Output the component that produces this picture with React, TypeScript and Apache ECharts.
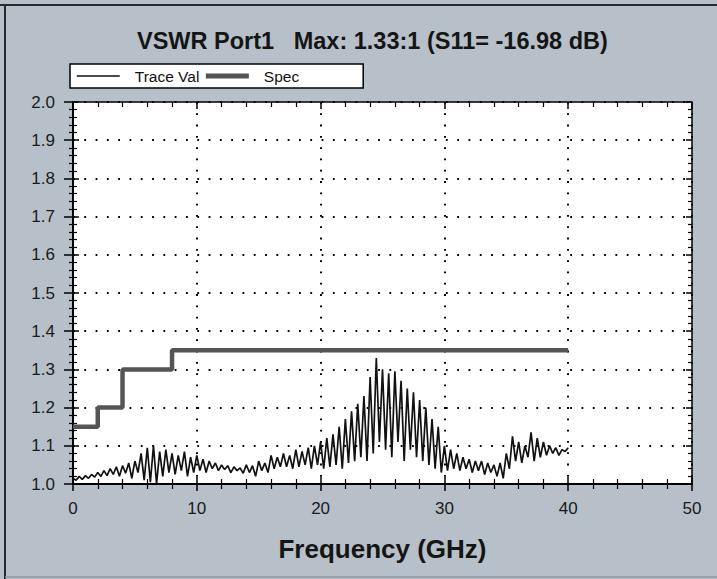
import React, { useEffect, useRef } from "react";
import * as echarts from "echarts";

const titleText = "VSWR Port1   Max: 1.33:1 (S11= -16.98 dB)";
const xName = "Frequency (GHz)";
const seriesNames = ["Trace Val", "Spec"];

const specFreq = [0, 2, 4, 8, 40];
const specVals = [1.15, 1.2, 1.3, 1.35, 1.35];

const traceStep = 0.25; // GHz between trace samples, starting at 0
const traceVals = [
  1.015, 1.010, 1.020, 1.012,
  1.022, 1.015, 1.025, 1.018,
  1.030, 1.020, 1.035, 1.022,
  1.040, 1.025, 1.045, 1.020,
  1.048, 1.028, 1.055, 1.015,
  1.060, 1.030, 1.080, 1.010,
  1.095, 1.005, 1.100, 1.000,
  1.085, 1.020, 1.090, 1.030,
  1.080, 1.025, 1.075, 1.035,
  1.085, 1.020, 1.070, 1.030,
  1.075, 1.035, 1.065, 1.030,
  1.060, 1.040, 1.055, 1.035,
  1.050, 1.038, 1.048, 1.030,
  1.045, 1.035, 1.042, 1.028,
  1.050, 1.030, 1.048, 1.020,
  1.060, 1.035, 1.055, 1.030,
  1.075, 1.040, 1.070, 1.045,
  1.080, 1.045, 1.075, 1.040,
  1.090, 1.045, 1.085, 1.050,
  1.095, 1.040, 1.100, 1.050,
  1.110, 1.040, 1.120, 1.045,
  1.130, 1.050, 1.150, 1.040,
  1.170, 1.055, 1.190, 1.060,
  1.210, 1.070, 1.230, 1.060,
  1.280, 1.080, 1.330, 1.110,
  1.300, 1.090, 1.290, 1.070,
  1.295, 1.110, 1.270, 1.060,
  1.250, 1.090, 1.240, 1.070,
  1.220, 1.060, 1.200, 1.050,
  1.170, 1.040, 1.150, 1.030,
  1.100, 1.035, 1.090, 1.040,
  1.080, 1.035, 1.070, 1.040,
  1.065, 1.030, 1.060, 1.035,
  1.060, 1.025, 1.055, 1.030,
  1.050, 1.020, 1.055, 1.015,
  1.080, 1.040, 1.125, 1.060,
  1.110, 1.055, 1.100, 1.070,
  1.135, 1.060, 1.120, 1.070,
  1.110, 1.075, 1.100, 1.080,
  1.095, 1.075, 1.090, 1.085,
  1.095,
];

const FONT = "Liberation Sans, Arial, sans-serif";

export default function App() {
  const ref = useRef<HTMLDivElement>(null);
  useEffect(() => {
    if (!ref.current) return;
    const chart = echarts.init(ref.current, undefined, { renderer: "svg" });
    const grid = { left: 73, right: 25, top: 102, bottom: 95 };
    const xBase = { type: "value", min: 0, max: 50, interval: 10 };
    const yBase = { type: "value", min: 1.0, max: 2.0, interval: 0.1 };
    const hidden = { show: false };
    chart.setOption({
      animation: false,
      backgroundColor: "#b7c0c8",
      textStyle: { fontFamily: FONT },
      title: {
        text: titleText,
        left: 132,
        top: 24,
        textStyle: { fontSize: 23.5, fontWeight: "bold", color: "#151515", fontFamily: FONT },
      },
      legend: {
        data: [
          { name: seriesNames[0], itemStyle: { opacity: 0 }, lineStyle: { width: 1.5, color: "#111" } },
          { name: seriesNames[1], itemStyle: { opacity: 0 }, lineStyle: { width: 5, color: "#555" } },
        ],
        left: 70,
        top: 64,
        orient: "horizontal",
        backgroundColor: "#fff",
        borderColor: "#000",
        borderWidth: 1.5,
        borderRadius: 0,
        padding: [4, 64, 4, 6],
        itemWidth: 43,
        itemHeight: 12,
        itemGap: 4,
        textStyle: { fontSize: 15.5, color: "#111", fontFamily: FONT, padding: [0, 0, 0, 10] },
      },
      grid: {
        ...grid,
        show: true,
        backgroundColor: "#fff",
        borderColor: "#000",
        borderWidth: 1.5,
      },
      xAxis: [
        {
          ...xBase,
          position: "bottom",
          name: xName,
          nameLocation: "middle",
          nameGap: 52,
          nameTextStyle: { fontSize: 26, fontWeight: "bold", color: "#151515", fontFamily: FONT },
          axisLine: { show: true, onZero: false, lineStyle: { color: "#000", width: 2 } },
          axisTick: { show: true, inside: false, length: 7, lineStyle: { color: "#000", width: 1.5 } },
          minorTick: { show: true, splitNumber: 5, length: 5, lineStyle: { color: "#000", width: 1.2 } },
          axisLabel: { fontSize: 17, color: "#1a1a1a", margin: 16, fontFamily: FONT },
          splitLine: { show: true, lineStyle: { color: "#000", width: 2, type: [1.8, 9.5] } },
        },
        {
          ...xBase,
          position: "bottom",
          axisLine: { show: false, onZero: false },
          axisTick: { show: true, inside: true, length: 7, lineStyle: { color: "#000", width: 1.5 } },
          minorTick: { show: true, splitNumber: 5, length: 5, lineStyle: { color: "#000", width: 1.2 } },
          axisLabel: hidden,
          splitLine: hidden,
        },
        {
          ...xBase,
          position: "top",
          axisLine: { show: false, onZero: false },
          axisTick: { show: true, inside: true, length: 7, lineStyle: { color: "#000", width: 1.5 } },
          minorTick: { show: true, splitNumber: 5, length: 5, lineStyle: { color: "#000", width: 1.2 } },
          axisLabel: hidden,
          splitLine: hidden,
        },
      ],
      yAxis: [
        {
          ...yBase,
          position: "left",
          axisLine: { show: true, onZero: false, lineStyle: { color: "#000", width: 2 } },
          axisTick: { show: true, inside: false, length: 9, lineStyle: { color: "#000", width: 1.5 } },
          minorTick: { show: true, splitNumber: 5, length: 4, lineStyle: { color: "#000", width: 1.2 } },
          axisLabel: {
            fontSize: 17,
            color: "#1a1a1a",
            margin: 18,
            fontFamily: FONT,
            formatter: (v: number) => v.toFixed(1),
          },
          splitLine: { show: true, lineStyle: { color: "#000", width: 2, type: [1.8, 9.5] } },
        },
        {
          ...yBase,
          position: "left",
          axisLine: { show: false, onZero: false },
          axisTick: { show: true, inside: true, length: 6, lineStyle: { color: "#000", width: 1.5 } },
          minorTick: { show: true, splitNumber: 5, length: 4, lineStyle: { color: "#000", width: 1.2 } },
          axisLabel: hidden,
          splitLine: hidden,
        },
        {
          ...yBase,
          position: "right",
          axisLine: { show: false, onZero: false },
          axisTick: { show: true, inside: true, length: 6, lineStyle: { color: "#000", width: 1.5 } },
          minorTick: { show: true, splitNumber: 5, length: 4, lineStyle: { color: "#000", width: 1.2 } },
          axisLabel: hidden,
          splitLine: hidden,
        },
      ],
      graphic: [
        {
          type: "line",
          shape: { x1: 0, y1: 5, x2: 717, y2: 5 },
          style: { stroke: "#2a2a2a", lineWidth: 2 },
          silent: true,
        },
        {
          type: "line",
          shape: { x1: 5, y1: 5, x2: 5, y2: 579 },
          style: { stroke: "#2a2a2a", lineWidth: 2 },
          silent: true,
        },
        {
          type: "line",
          shape: { x1: 5, y1: 577, x2: 717, y2: 577 },
          style: { stroke: "#8f989f", lineWidth: 1.5 },
          silent: true,
        },
      ],
      series: [
        {
          name: seriesNames[0],
          type: "line",
          xAxisIndex: 0,
          yAxisIndex: 0,
          symbol: "none",
          data: traceVals.map((v, i) => [i * traceStep, v]),
          lineStyle: { color: "#111", width: 1.7 },
          itemStyle: { color: "#111" },
          z: 3,
        },
        {
          name: seriesNames[1],
          type: "line",
          xAxisIndex: 0,
          yAxisIndex: 0,
          symbol: "none",
          step: "end",
          data: specFreq.map((f, i) => [f, specVals[i]]),
          lineStyle: { color: "#555", width: 4.5 },
          itemStyle: { color: "#555" },
          z: 2,
        },
      ],
    });
    return () => chart.dispose();
  }, []);
  return (
    <div
      ref={ref}
      style={{ position: "absolute", left: 0, top: 0, width: 717, height: 579 }}
    />
  );
}
